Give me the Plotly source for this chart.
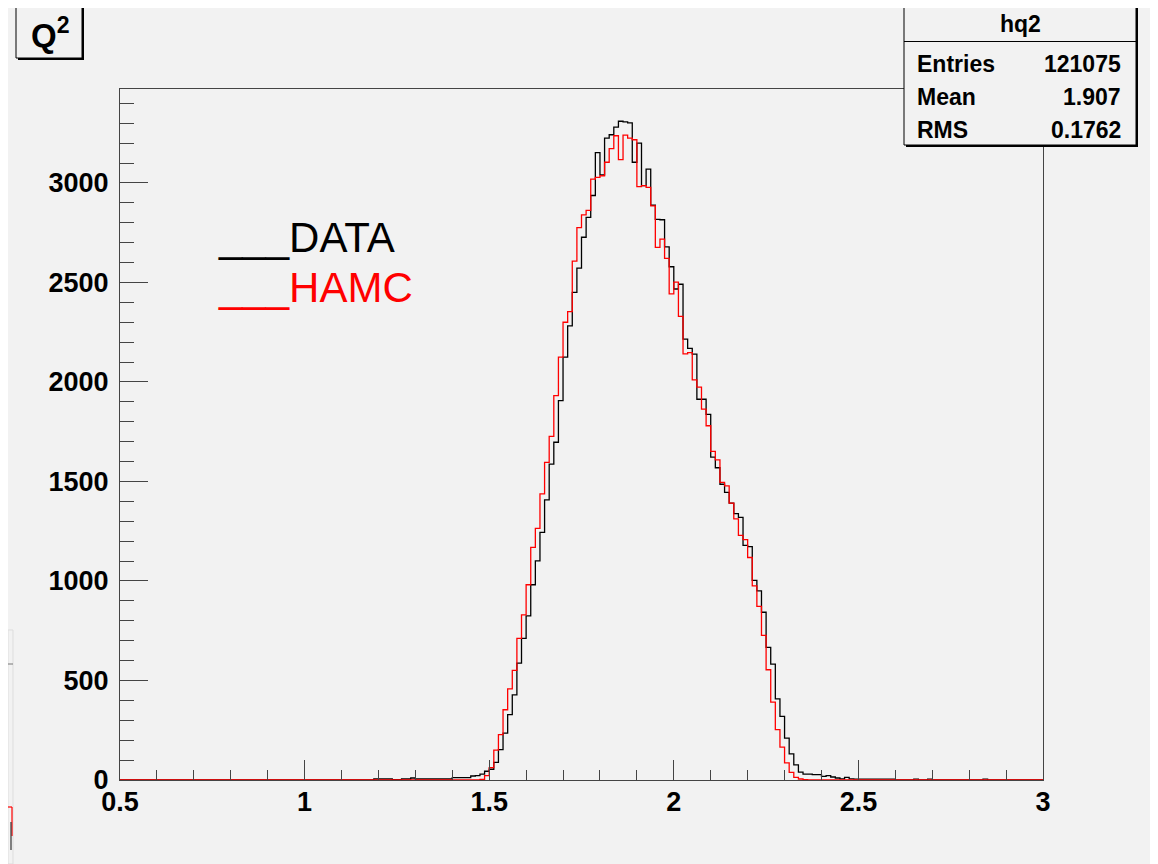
import numpy as np
import plotly.graph_objects as go

# ---------------- data ----------------
x_min, x_max = 0.5, 3.0
n_bins = 200  # bin width 0.0125

# DATA (black) bin contents, bins 0..199
data_counts = (
    [0] * 55
    + [5, 5, 5, 5, 2, 2, 5, 5, 10, 5,            # 55-64
       5, 5, 5, 5, 5, 5, 5, 12, 12, 12,          # 65-74
       12, 20, 22, 30, 44, 54, 89, 153, 236, 328,  # 75-84
       428, 587, 712, 825, 981, 1101, 1244, 1408, 1587, 1697,  # 85-94
       1906, 2125, 2282, 2450, 2572, 2727, 2827, 2937, 3152, 3041,  # 95-104
       3225, 3242, 3280, 3310, 3307, 3302, 3104, 3200, 2986, 3069,  # 105-114
       2888, 2817, 2815, 2679, 2579, 2467, 2491, 2215, 2169, 2140,  # 115-124
       1913, 1913, 1837, 1622, 1569, 1486, 1445, 1391, 1338, 1320,  # 125-134
       1179, 1173, 1003, 950, 843, 666, 582, 408, 320, 210,   # 135-144
       131, 76, 40, 30, 30, 27, 27, 18, 22, 15,    # 145-154
       10, 6, 13, 6, 4, 4, 4, 4, 4, 4,             # 155-164
       4, 4, 4, 0, 0, 0, 0, 4, 0, 0,               # 165-174
       4, 0, 0, 0, 0, 0, 0, 0, 0, 0,               # 175-184
       0, 0, 4, 0, 0, 0, 0, 0, 0, 0,               # 185-194
       0, 0, 0, 0, 0]                              # 195-199
)

# HAMC (red) bin contents, bins 0..199
hamc_counts = (
    [0] * 78
    + [3, 22, 62, 150, 228, 353, 458, 551, 712, 830,          # 78-87
       981, 1169, 1264, 1438, 1596, 1727, 1931, 2125, 2300, 2353,  # 88-97
       2607, 2775, 2840, 2862, 3019, 3028, 3036, 3104, 3172, 3237,  # 98-107
       3117, 3240, 3225, 3217, 2981, 2986, 2978, 2885, 2676, 2718,  # 108-117
       2621, 2443, 2502, 2330, 2141, 2147, 2010, 1974, 1863, 1780,  # 118-127
       1651, 1609, 1495, 1478, 1391, 1312, 1229, 1208, 1118, 975,   # 128-137
       872, 727, 554, 391, 253, 165, 86, 38, 13, 5,                 # 138-147
       2]                                                          # 148
    + [0] * 51
)

x_ticks = [0.5, 1, 1.5, 2, 2.5, 3]
x_tick_labels = ["0.5", "1", "1.5", "2", "2.5", "3"]
y_ticks = [0, 500, 1000, 1500, 2000, 2500, 3000]
y_tick_labels = ["0", "500", "1000", "1500", "2000", "2500", "3000"]

stats_title = "hq2"
stats_names = ["Entries", "Mean", "RMS"]
stats_values = ["121075", "1.907", "0.1762"]

legend_labels = ["DATA", "HAMC"]
legend_colors = ["black", "red"]

# ---------------- figure ----------------
OFF = 8                      # page body margin of the html page
W, H = 1158 - OFF, 864 - OFF
ML, MR, MT, MB = 120 - OFF, 115, 89 - OFF, 84
PW, PH = W - ML - MR, H - MT - MB
Y_TOP = 3472

def px(xp):   # page pixel -> paper x
    return (xp - OFF - ML) / PW

def py(yp):   # page pixel -> paper y
    return (H - MB - (yp - OFF)) / PH

edges = np.linspace(x_min, x_max, n_bins + 1)

def step_xy(counts):
    xs = list(edges)
    ys = list(counts) + [counts[-1]]
    return xs, ys

BG = "#f2f2f2"
BOLD = "Liberation Sans, Arial, Helvetica, sans-serif"
REG = "Liberation Sans, Arial, Helvetica, sans-serif"

fig = go.Figure()
for counts, color in [(data_counts, "black"), (hamc_counts, "red")]:
    xs, ys = step_xy(counts)
    fig.add_trace(go.Scatter(x=xs, y=ys, mode="lines",
                             line=dict(color=color, width=1.3, shape="hv"),
                             hoverinfo="skip", showlegend=False))

axis_col = "#444444"
fig.update_layout(
    width=W, height=H,
    margin=dict(l=ML, r=MR, t=MT, b=MB, pad=0),
    paper_bgcolor=BG, plot_bgcolor=BG,
    showlegend=False,
    xaxis=dict(range=[x_min, x_max], tickvals=x_ticks, ticktext=x_tick_labels,
               ticks="inside", ticklen=20, tickwidth=1, tickcolor=axis_col,
               minor=dict(ticks="inside", ticklen=10, dtick=0.1, tick0=0.5,
                          tickcolor=axis_col, tickwidth=1, showgrid=False),
               showline=True, linecolor=axis_col, linewidth=1.2, mirror=True,
               showgrid=False, zeroline=False, ticklabelstandoff=-3,
               tickfont=dict(family=BOLD, size=27, color="black", weight="bold")),
    yaxis=dict(range=[0, Y_TOP], tickvals=y_ticks, ticktext=y_tick_labels,
               ticks="inside", ticklen=28, tickwidth=1, tickcolor=axis_col,
               minor=dict(ticks="inside", ticklen=14, dtick=100, tick0=0,
                          tickcolor=axis_col, tickwidth=1, showgrid=False),
               showline=True, linecolor=axis_col, linewidth=1.2, mirror=True,
               showgrid=False, zeroline=False, ticklabelstandoff=5,
               tickfont=dict(family=BOLD, size=27, color="black", weight="bold")),
)

shapes = []
def rect(x0, y0, x1, y1, fill, line_color=None, lw=0):
    shapes.append(dict(type="rect", xref="paper", yref="paper",
                       x0=px(x0), x1=px(x1), y0=py(y1), y1=py(y0),
                       fillcolor=fill, line=dict(color=line_color or fill, width=lw),
                       layer="above"))

def seg(x0, y0, x1, y1, color, lw=1):
    shapes.append(dict(type="line", xref="paper", yref="paper",
                       x0=px(x0), x1=px(x1), y0=py(y0), y1=py(y1),
                       line=dict(color=color, width=lw), layer="above"))

# right border of the canvas
rect(1154, 0, 1158, 864, "white")
seg(1153.5, 8, 1153.5, 864, "#9a9a9a", 1)
# remnants of a neighbouring pad on the far left
rect(8, 630, 13, 864, BG, "#dddddd", 1)
seg(8, 664, 13, 664, "#777777", 1)
seg(8, 807, 12, 807, "red", 1.2)
seg(12, 807, 12, 836, "red", 1.2)
seg(11, 822, 11, 850, "#333333", 1.2)

# title box with shadow
rect(18, 8, 84, 60, "black")
rect(16, 6, 82, 58, BG, "black", 1)
# stats box with shadow
rect(906, 8, 1138, 147, "black")
rect(904, 6, 1136, 145, BG, "black", 1)
seg(904, 41.5, 1136, 41.5, "black", 1)

fig.update_layout(shapes=shapes)

ann = []
ann.append(dict(text="Q<sup>2</sup>", x=px(50), y=py(33), xref="paper", yref="paper",
                xanchor="center", yanchor="middle", showarrow=False,
                font=dict(family=BOLD, size=33, color="black", weight="bold")))
ann.append(dict(text=stats_title, x=px(1020), y=py(24), xref="paper", yref="paper",
                xanchor="center", yanchor="middle", showarrow=False,
                font=dict(family=BOLD, size=23, color="black", weight="bold")))
for i, (nm, vl) in enumerate(zip(stats_names, stats_values)):
    yc = 64 + i * 33
    ann.append(dict(text=nm, x=px(915), y=py(yc), xref="paper", yref="paper",
                    xanchor="left", yanchor="middle", showarrow=False,
                    font=dict(family=BOLD, size=23, color="black", weight="bold")))
    ann.append(dict(text=vl, x=px(1123), y=py(yc), xref="paper", yref="paper",
                    xanchor="right", yanchor="middle", showarrow=False,
                    font=dict(family=BOLD, size=23, color="black", weight="bold")))
for i, (lab, col) in enumerate(zip(legend_labels, legend_colors)):
    ann.append(dict(text="___" + lab, x=px(216), y=py(237 + 50 * i), xref="paper", yref="paper",
                    xanchor="left", yanchor="middle", showarrow=False,
                    font=dict(family=REG, size=42, color=col)))
fig.update_layout(annotations=ann)

fig.write_html("out.html")
